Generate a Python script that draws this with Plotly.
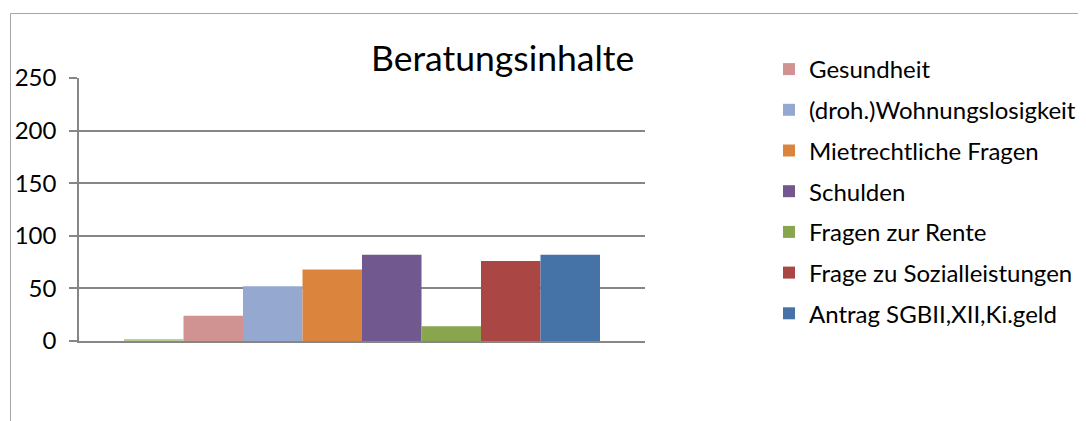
import plotly.graph_objects as go

series = ["Sonstiges", "Gesundheit", "(droh.)Wohnungslosigkeit", "Mietrechtliche Fragen",
          "Schulden", "Fragen zur Rente", "Frage zu Sozialleistungen", "Antrag SGBII,XII,Ki.geld"]
values = [1, 24, 52, 68, 82, 14, 76, 82]
colors = ["#B9CD96", "#D19392", "#95A9D0", "#DB843D", "#71588F", "#89A54E", "#AA4643", "#4572A7"]
show_in_legend = [False, True, True, True, True, True, True, True]
category = [""]
y_ticks = [0, 50, 100, 150, 200, 250]

OFF = 8  # default page body margin
W, H = 1086 - OFF, 421 - OFF
L, R, T, B = 79 - OFF, 645 - OFF, 78 - OFF, 341 - OFF

FONT = "Lato"

fig = go.Figure()
for name, v, c, s in zip(series, values, colors, show_in_legend):
    fig.add_trace(go.Bar(x=category, y=[v], name=name,
                         marker=dict(color=c, line=dict(width=0)),
                         showlegend=s, legendgroup=name))

def px_to_paper_x(px):
    return (px - OFF - L) / (R - L)

def px_to_paper_y(py):
    return (B - (py - OFF)) / (B - T)

def px_to_cont_x(px):
    return (px - OFF) / W

def px_to_cont_y(py):
    return 1 - (py - OFF) / H

fig.update_layout(
    width=W, height=H,
    margin=dict(l=L, r=W - R, t=T, b=H - B, pad=0, autoexpand=False),
    paper_bgcolor="white", plot_bgcolor="white",
    barmode="group", bargap=0.159, bargroupgap=0,
    font=dict(family=FONT, color="black", size=22),
    showlegend=True,
    legend=dict(xref="container", yref="container",
                x=px_to_cont_x(769), y=px_to_cont_y(47), xanchor="left", yanchor="top",
                font=dict(family=FONT, size=24, color="black"), tracegroupgap=6.5,
                bgcolor="rgba(0,0,0,0)", itemclick=False, maxheight=400),
    xaxis=dict(showticklabels=False, showgrid=False, showline=True, linecolor="#868686",
               linewidth=1.5, ticks="", zeroline=False, fixedrange=True),
    yaxis=dict(range=[0, 250], tickvals=y_ticks, ticktext=[str(t) for t in y_ticks],
               showgrid=True, gridcolor="#868686", gridwidth=1.5, zeroline=False,
               showline=True, linecolor="#868686", linewidth=1.5,
               ticks="outside", ticklen=8, tickcolor="#868686", tickwidth=1.5,
               ticklabelstandoff=8, tickfont=dict(family=FONT, size=24, color="black"),
               fixedrange=True),
    annotations=[dict(text="Beratungsinhalte", xref="paper", yref="paper",
                      x=px_to_paper_x(502), y=px_to_paper_y(57), xanchor="center", yanchor="middle",
                      showarrow=False, font=dict(family=FONT, size=35.5, color="black"))],
    shapes=[dict(type="line", xref="paper", yref="paper",
                 x0=px_to_paper_x(10.5), x1=px_to_paper_x(1090), y0=px_to_paper_y(13.5), y1=px_to_paper_y(13.5),
                 line=dict(color="#A6A6A6", width=1)),
            dict(type="line", xref="paper", yref="paper",
                 x0=px_to_paper_x(10.5), x1=px_to_paper_x(10.5), y0=px_to_paper_y(13.5), y1=px_to_paper_y(425),
                 line=dict(color="#A6A6A6", width=1))],
)

fig.write_html("out.html")
